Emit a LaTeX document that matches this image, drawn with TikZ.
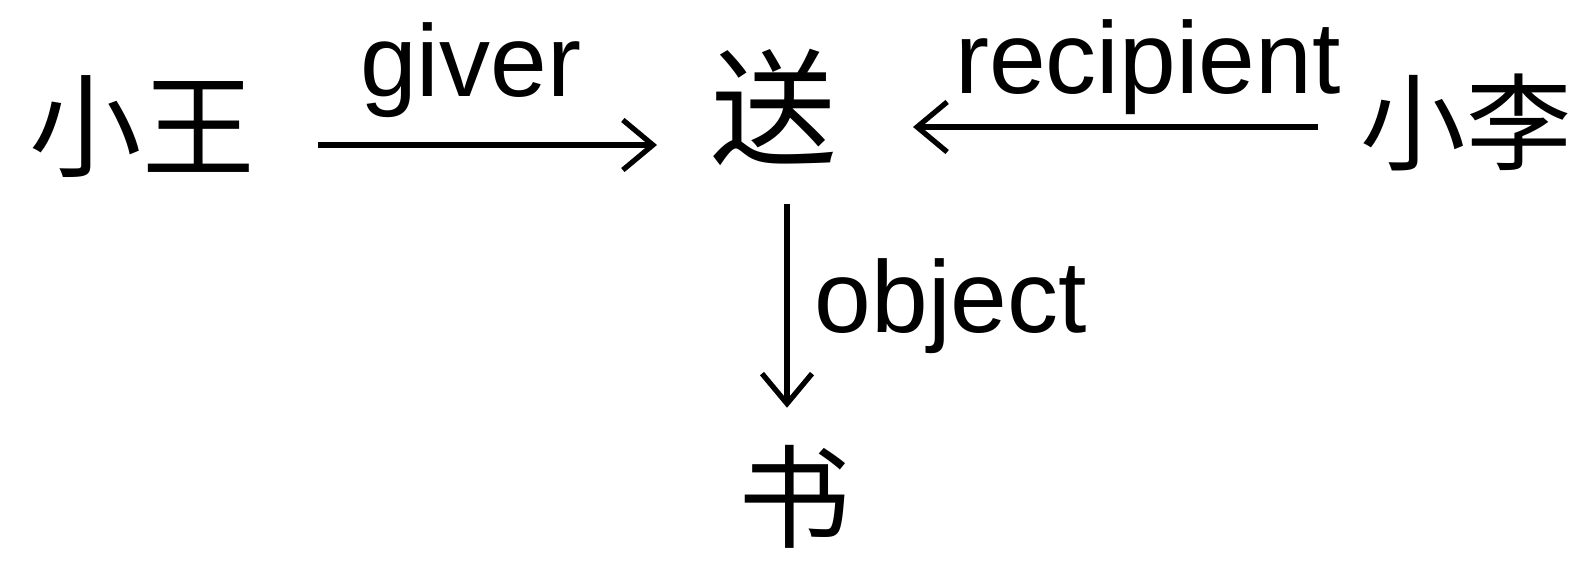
\documentclass[tikz,border=0pt]{standalone}
\usepackage{fontspec}
\setmainfont{Liberation Sans}
\newfontfamily\cjk{Noto Sans CJK SC}
\usetikzlibrary{arrows.meta}
\tikzset{
  word/.style={font=\cjk\fontsize{32}{32}\selectfont, inner sep=0pt},
  role/.style={font=\fontsize{29}{29}\selectfont, inner sep=0pt},
  link/.style={line width=1.5pt, -{Straight Barb[length=0.3cm,width=0.5cm]}},
}
\begin{document}
\begin{tikzpicture}[x=0.01cm,y=-0.01cm]
\useasboundingbox (0,0) rectangle (1592,571);

\node[word] (wang) at (142,127) {小王};
\node[word, font=\cjk\fontsize{36}{36}\selectfont] (song) at (774,107) {送};
\node[word, font=\cjk\fontsize{30}{30}\selectfont] (li) at (1466,122) {小李};
\node[word] (shu) at (795,497) {书};

\draw[link] ([shift={(63,18)}]wang.east) -- node[role, above=0.25cm, pos=0.45] {giver} ([shift={(-53,38)}]song.west);
\draw[link] ([shift={(-42,5)}]li.west) -- node[role, above=0.1cm, pos=0.42] {recipient} ([shift={(75,20)}]song.east);
\draw[link] ([shift={(13,38)}]song.south) -- node[role, right=0.25cm] {object} ([shift={(-8,-37)}]shu.north);
\end{tikzpicture}
\end{document}
